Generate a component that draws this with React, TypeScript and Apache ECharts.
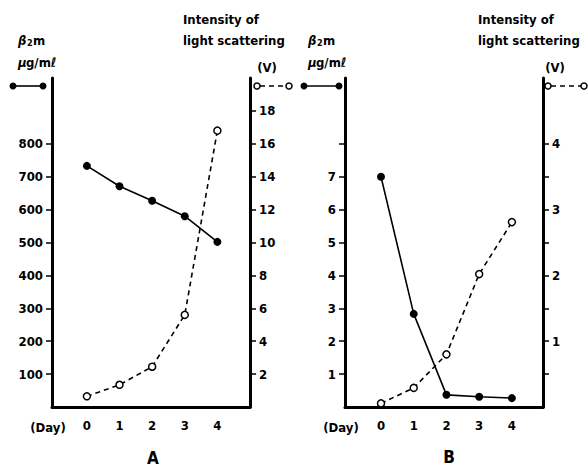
import React, { useEffect, useRef } from "react";
import * as echarts from "echarts";

const days = [0, 1, 2, 3, 4];
const aBeta = [733, 671, 627, 580, 502];
const aScatter = [0.65, 1.35, 2.45, 5.6, 16.8];
const bBeta = [7.0, 2.83, 0.37, 0.31, 0.27];
const bScatter = [0.055, 0.29, 0.8, 2.02, 2.81];

const aLeftTicks = [100, 200, 300, 400, 500, 600, 700, 800];
const aRightTicks = [2, 4, 6, 8, 10, 12, 14, 16, 18];
const bLeftTicks = [1, 2, 3, 4, 5, 6, 7, 8];
const bLeftLabels = [1, 2, 3, 4, 5, 6, 7];
const bRightTicks = [0.5, 1, 1.5, 2, 2.5, 3, 3.5, 4];
const bRightLabels = [1, 2, 3, 4];
const dayLabels = [0, 1, 2, 3, 4];

const FONT = "DejaVu Sans Condensed";

export default function App() {
  const ref = useRef<HTMLDivElement>(null);
  useEffect(() => {
    if (!ref.current) return;
    const chart = echarts.init(ref.current, null, { renderer: "svg" });
    const lineStyle = { color: "#000", width: 3 };
    const lbl = { color: "#000", fontFamily: FONT, fontWeight: "bold" as const, fontSize: 13 };
    const xAx = (gi: number, min: number, max: number) => ({
      type: "value",
      gridIndex: gi,
      min,
      max,
      axisLine: { show: true, onZero: false, lineStyle },
      axisTick: { show: false },
      splitLine: { show: false },
      axisLabel: { ...lbl, margin: 12, customValues: dayLabels },
    });
    const yAx = (gi: number, pos: string, max: number, ticks: number[], labels: number[]) => ({
      type: "value",
      gridIndex: gi,
      position: pos,
      min: 0,
      max,
      axisLine: { show: true, onZero: false, lineStyle },
      axisTick: { show: true, length: 6, lineStyle: { color: "#000", width: 1.5 }, customValues: ticks },
      splitLine: { show: false },
      axisLabel: { ...lbl, margin: 9, customValues: labels },
    });
    const solid = (xi: number, yi: number, vals: number[]) => ({
      type: "line",
      xAxisIndex: xi,
      yAxisIndex: yi,
      data: days.map((d, i) => [d, vals[i]]),
      symbol: "circle",
      symbolSize: 8,
      lineStyle: { color: "#000", width: 1.6 },
      itemStyle: { color: "#000" },
    });
    const dashed = (xi: number, yi: number, vals: number[]) => ({
      type: "line",
      xAxisIndex: xi,
      yAxisIndex: yi,
      data: days.map((d, i) => [d, vals[i]]),
      symbol: "circle",
      symbolSize: 7,
      lineStyle: { color: "#000", width: 1.6, type: [5, 4] },
      itemStyle: { color: "#fff", borderColor: "#000", borderWidth: 1.5 },
    });
    const txt = (x: number, y: number, text: string, extra: any = {}) => ({
      type: "text",
      x,
      y,
      style: {
        text,
        fill: "#000",
        font: `bold 13px "${FONT}"`,
        textVerticalAlign: "middle",
        ...extra,
      },
    });
    const betaText = (x: number, y: number) => [
      txt(x, y, "β", { font: `italic bold 13px "${FONT}"` }),
      txt(x + 9, y + 3, "2", { font: `bold 9px "${FONT}"` }),
      txt(x + 15, y, "m"),
    ];
    const unitText = (x: number, y: number) => [
      txt(x, y, "μ", { font: `italic bold 13px "${FONT}"` }),
      txt(x + 8, y, "g/mℓ"),
    ];
    const legSolid = (x1: number, x2: number, y: number) => [
      { type: "line", shape: { x1, y1: y, x2, y2: y }, style: { stroke: "#000", lineWidth: 1.6 } },
      { type: "circle", shape: { cx: x1, cy: y, r: 3.5 }, style: { fill: "#000" } },
      { type: "circle", shape: { cx: x2, cy: y, r: 3.5 }, style: { fill: "#000" } },
    ];
    const legDashed = (x1: number, x2: number, y: number) => [
      { type: "line", shape: { x1: x1 + 3, y1: y, x2: x2 - 3, y2: y }, style: { stroke: "#000", lineWidth: 1.6, lineDash: [5, 4] } },
      { type: "circle", shape: { cx: x1, cy: y, r: 3 }, style: { fill: "#fff", stroke: "#000", lineWidth: 1.5 } },
      { type: "circle", shape: { cx: x2, cy: y, r: 3 }, style: { fill: "#fff", stroke: "#000", lineWidth: 1.5 } },
    ];
    chart.setOption({
      animation: false,
      backgroundColor: "#fff",
      grid: [
        { left: 52, top: 78, width: 198, height: 329 },
        { left: 345, top: 78, width: 198, height: 329 },
      ],
      xAxis: [xAx(0, -1.07, 5), xAx(1, -1.1, 4.95)],
      yAxis: [
        yAx(0, "left", 1000, aLeftTicks, aLeftTicks),
        yAx(0, "right", 20, aRightTicks, aRightTicks),
        yAx(1, "left", 10, bLeftTicks, bLeftLabels),
        yAx(1, "right", 5, bRightTicks, bRightLabels),
      ],
      series: [solid(0, 0, aBeta), dashed(0, 1, aScatter), solid(1, 2, bBeta), dashed(1, 3, bScatter)],
      graphic: [
        ...betaText(18, 40),
        ...unitText(18, 62),
        txt(183, 19, "Intensity of"),
        txt(183, 40, "light scattering"),
        txt(267, 67, "(V)", { textAlign: "center" }),
        ...betaText(308, 40),
        ...unitText(308, 62),
        txt(478, 19, "Intensity of"),
        txt(478, 40, "light scattering"),
        txt(555, 67, "(V)", { textAlign: "center" }),
        txt(48, 427, "(Day)", { textAlign: "center" }),
        txt(341, 427, "(Day)", { textAlign: "center" }),
        txt(153, 458, "A", { textAlign: "center", font: `bold 17px "${FONT}"` }),
        txt(449, 457, "B", { textAlign: "center", font: `bold 17px "${FONT}"` }),
        ...legSolid(13, 43, 86),
        ...legDashed(257, 289, 86),
        ...legSolid(304, 339, 86),
        ...legDashed(548, 584, 86),
      ],
    });
    return () => chart.dispose();
  }, []);
  return (
    <div
      ref={ref}
      style={{ position: "fixed", left: 0, top: 0, width: 588, height: 468, background: "#fff" }}
    />
  );
}
